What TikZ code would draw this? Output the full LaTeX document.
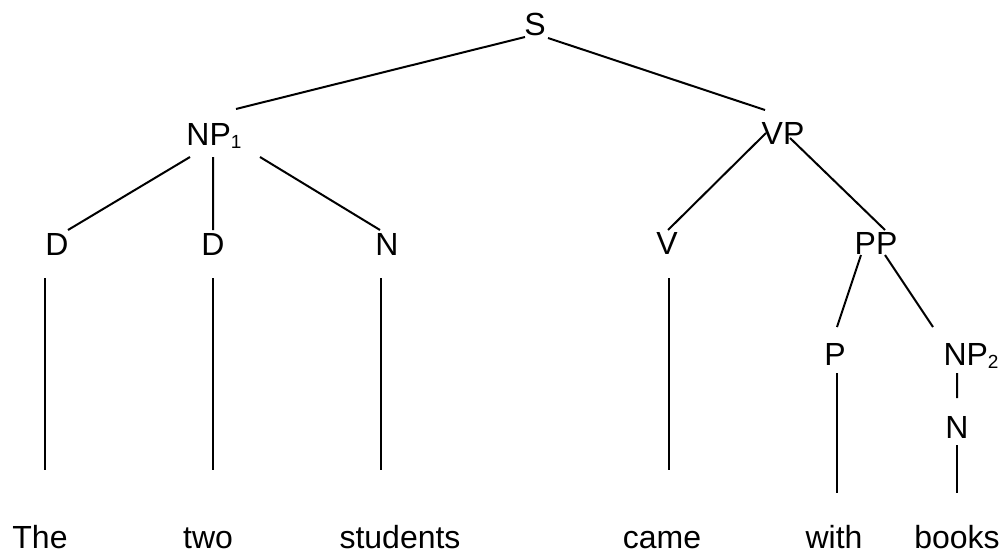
\documentclass[tikz,border=0pt]{standalone}
\usepackage{fontspec}
\setmainfont{Liberation Sans}
\usepackage{tikz}
\newcommand{\idx}[1]{\raisebox{-1.5pt}{\fontsize{9.5}{9.5}\selectfont #1}}
\tikzset{cat node/.style={inner sep=0pt,outer sep=0pt,anchor=base,font=\fontsize{16}{19}\selectfont},
leaf node/.style={cat node},
branch/.style={line width=1pt}}

\begin{document}
\begin{tikzpicture}[x=0.5pt,y=-0.5pt]
    \useasboundingbox (0,0) rectangle (1006,552);

    % categories
    \node[cat node] (S) at (535,35) {S};
    \node[cat node] (NP1) at (214,145) {NP\idx{1}};
    \node[cat node] (VP) at (783,144) {VP};
    \node[cat node] (D1) at (57,255) {D};
    \node[cat node] (D2) at (213,255) {D};
    \node[cat node] (N1) at (387,255) {N};
    \node[cat node] (V) at (667,254) {V};
    \node[cat node] (PP) at (876,254) {PP};
    \node[cat node] (P) at (835,365) {P};
    \node[cat node] (NP2) at (971,365) {NP\idx{2}};
    \node[cat node] (N2) at (957,438) {N};

    % words
    \node[leaf node] (the) at (40,548) {The};
    \node[leaf node] (two) at (208,548) {two};
    \node[leaf node] (students) at (400,548) {students};
    \node[leaf node] (came) at (662,548) {came};
    \node[leaf node] (with) at (834,548) {with};
    \node[leaf node] (books) at (957,548) {books};

    \path[draw,branch]
    ([shift={(-10,2)}]S.base) -- ([shift={(22,-36)}]NP1.base)
    ([shift={(13,3)}]S.base) -- ([shift={(-18,-34)}]VP.base)
    ([shift={(-24,12)}]NP1.base) -- ([shift={(11,-25)}]D1.base)
    ([shift={(-1,12)}]NP1.base) -- ([shift={(0,-25)}]D2.base)
    ([shift={(46,12)}]NP1.base) -- ([shift={(-7,-25)}]N1.base)
    ([shift={(-17,-11)}]VP.base) -- ([shift={(1,-24)}]V.base)
    ([shift={(7,-6)}]VP.base) -- ([shift={(9,-24)}]PP.base)
    ([shift={(-15,1)}]PP.base) -- ([shift={(2,-38)}]P.base)
    ([shift={(9,1)}]PP.base) -- ([shift={(-38,-38)}]NP2.base)
    ([shift={(-14,8)}]NP2.base) -- ([shift={(0,-40)}]N2.base)
    ;

    % lexical lines
    \path[draw,branch]
    ([shift={(-12,23)}]D1.base) -- ([shift={(5,-78)}]the.base)
    ([shift={(0,23)}]D2.base) -- ([shift={(5,-78)}]two.base)
    ([shift={(-6,23)}]N1.base) -- ([shift={(-19,-78)}]students.base)
    ([shift={(2,24)}]V.base) -- ([shift={(7,-78)}]came.base)
    ([shift={(2,8)}]P.base) -- ([shift={(3,-55)}]with.base)
    ([shift={(0,7)}]N2.base) -- ([shift={(0,-55)}]books.base)
    ;
\end{tikzpicture}
\end{document}
